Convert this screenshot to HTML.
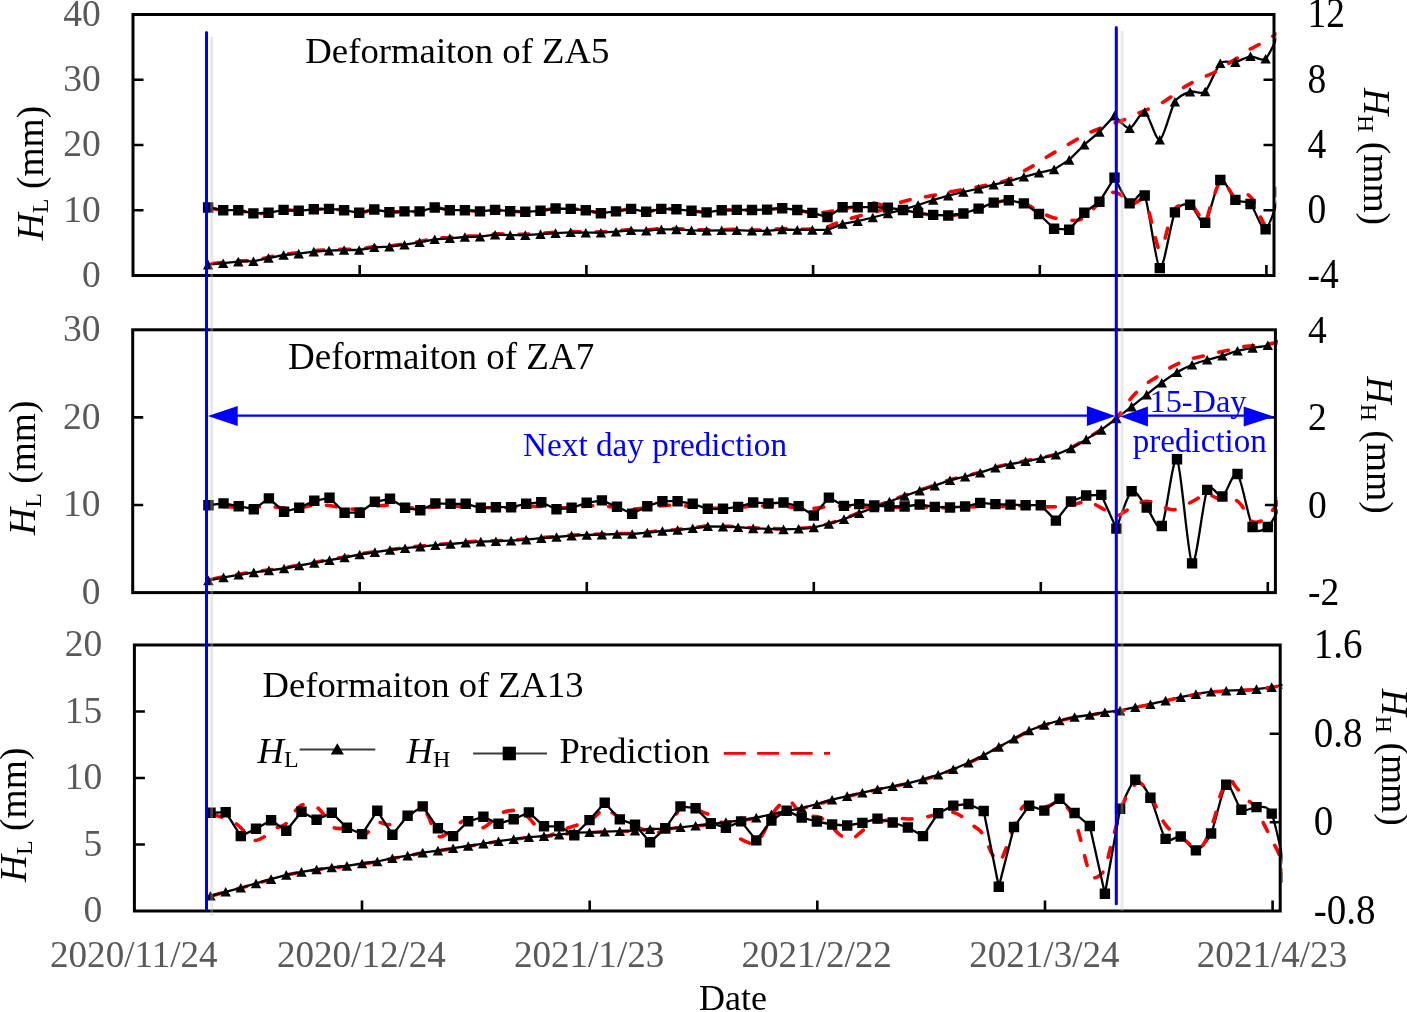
<!DOCTYPE html>
<html lang="en"><head><meta charset="utf-8"><title>Deformation prediction of ZA5, ZA7 and ZA13</title>
<style>html,body{margin:0;padding:0;background:#fff}body{width:1407px;height:1012px;overflow:hidden}svg{display:block}text{font-family:'Liberation Serif', 'Times New Roman', serif;font-size:37.5px;fill:#000}.g{fill:#595959}.t{font-size:36.6px}.b{fill:#0000ff;font-size:32.8px}.s{font-size:24px}.ax{stroke:#000;stroke-width:3;fill:none}.ln{stroke:#000;stroke-width:2.3;fill:none;stroke-linejoin:round}.rd{stroke:#ff0000;stroke-width:3.6;fill:none;stroke-dasharray:9.9 15.85;stroke-linecap:round}</style></head><body>
<svg width="1407" height="1012" viewBox="0 0 1407 1012">
<rect width="1407" height="1012" fill="#fff"/>
<defs>
<clipPath id="c1"><rect x="131" y="12.5" width="1145.3" height="265"/></clipPath>
<clipPath id="c2"><rect x="130.7" y="327.8" width="1147" height="266.8"/></clipPath>
<clipPath id="c3"><rect x="132.4" y="643" width="1150.1" height="270"/></clipPath>
</defs>
<g id="panel1">
<g clip-path="url(#c1)">
<path class="ln" d="M1114.5 115.6 C1116.5 117.3 1125.6 128.8 1129.6 128.3 C1133.7 127.8 1140.7 110.5 1144.7 112 C1148.8 113.5 1155.8 141.2 1159.8 139.8 C1163.9 138.4 1170.9 108.1 1174.9 101.7 C1179 95.3 1186 93.1 1190.1 91.7 C1194.1 90.3 1201.1 95.3 1205.2 91.5 C1209.2 87.7 1216.2 67.2 1220.3 63.3 C1224.3 59.4 1231.3 63 1235.4 62.1 C1239.4 61.2 1246.5 56.8 1250.5 56.3 C1254.5 55.8 1261.6 62.2 1265.6 58.7 C1269.6 55.2 1278.7 33.8 1280.7 30"/>
<path class="ln" d="M1114.5 177.6 C1116.5 181 1125.6 201 1129.6 203.4 C1133.7 205.8 1140.7 186.9 1144.7 195.5 C1148.8 204.1 1155.8 265.8 1159.8 268.1 C1163.9 270.4 1170.9 220.8 1174.9 212.4 C1179 204 1186 203.4 1190.1 204.8 C1194.1 206.2 1201.1 226 1205.2 222.7 C1209.2 219.4 1216.2 183 1220.3 180 C1224.3 177 1231.3 196.7 1235.4 199.9 C1239.4 203.1 1246.5 200.1 1250.5 204 C1254.5 207.9 1261.6 230.9 1265.6 229.3 C1269.6 227.7 1278.7 197 1280.7 192"/>
<path class="rd" stroke-dashoffset="21.8" d="M208.1 263.8 C210.6 263.6 218.2 262.9 223.2 262.4 C228.2 261.9 233.3 261.1 238.3 260.8 C243.3 260.5 248.4 261 253.4 260.4 C258.5 259.8 263.5 258.2 268.5 257.2 C273.6 256.2 278.6 254.9 283.6 254.2 C288.7 253.5 293.7 253.4 298.7 252.8 C303.8 252.2 308.8 251.3 313.8 250.8 C318.9 250.3 323.9 250.1 329 249.8 C334 249.5 339 249.3 344.1 249.2 C349.1 249.1 354.1 249.6 359.2 249.2 C364.2 248.8 369.2 247.1 374.3 246.5 C379.3 245.9 384.3 246.3 389.4 245.9 C394.4 245.5 399.5 244.6 404.5 243.9 C409.5 243.2 414.6 242.4 419.6 241.5 C424.6 240.6 429.7 239.2 434.7 238.5 C439.7 237.8 444.8 237.9 449.8 237.5 C454.8 237.1 459.9 236.5 464.9 236.2 C470 235.9 475 236.3 480 235.9 C485.1 235.5 490.1 234.2 495.1 233.9 C500.2 233.6 505.2 234.2 510.2 234.3 C515.3 234.4 520.3 234.5 525.3 234.3 C530.4 234.1 535.4 233.6 540.5 233.3 C545.5 233 550.5 232.6 555.6 232.3 C560.6 232 565.6 231.6 570.7 231.5 C575.7 231.4 580.7 231.8 585.8 231.9 C590.8 232 595.8 232.1 600.9 231.9 C605.9 231.7 611 231.3 616 230.9 C621 230.5 626.1 229.7 631.1 229.5 C636.1 229.3 641.2 230 646.2 229.9 C651.2 229.7 656.3 228.8 661.3 228.6 C666.3 228.4 671.4 228.4 676.4 228.6 C681.5 228.8 686.5 229.3 691.5 229.5 C696.6 229.7 701.6 229.9 706.6 229.9 C711.7 229.9 716.7 229.6 721.7 229.5 C726.8 229.4 731.8 229.3 736.8 229.4 C741.9 229.5 746.9 229.9 752 230 C757 230.1 762 230.2 767.1 230 C772.1 229.8 777.1 228.8 782.2 228.7 C787.2 228.5 792.2 229 797.3 229.1 C802.3 229.2 807.7 229.4 812.4 229.1 C817.1 228.8 821.8 228.4 825.5 227.5 C829.2 226.6 830.4 225.4 834.5 223.9 C838.6 222.4 843.4 220.6 850 218.6 C856.6 216.6 868.9 213.5 874.3 212 C879.7 210.5 878.3 211 882.3 209.5 C886.3 208 893.4 204.9 898.2 203.2 C903 201.5 907 200.4 911.1 199.4 C915.2 198.4 918.9 197.9 923 197.2 C927.1 196.5 931.8 195.8 936 195 C940.2 194.2 943.9 193 948 192.2 C952.1 191.3 955.6 190.9 960.9 189.9 C966.2 188.9 972.4 187.9 979.8 186.4 C987.1 184.9 997.8 183.5 1005 181 C1012.2 178.5 1017.9 174.2 1022.9 171.5 C1027.9 168.8 1031.2 167 1034.9 164.8 C1038.6 162.6 1041.2 160.5 1044.8 158.2 C1048.4 155.9 1053 153.3 1056.7 151.2 C1060.4 149 1062.9 147.5 1066.7 145.3 C1070.5 143.1 1075.8 140 1079.6 137.9 C1083.4 135.8 1085.8 134.3 1089.6 132.6 C1093.4 130.9 1098.5 129 1102.5 127.5 C1106.5 126 1109.6 124.8 1113.5 123.4 C1117.4 122 1121.9 120.7 1126 119 C1130.1 117.3 1133.9 115.2 1137.9 113.4 C1142 111.6 1146.3 110 1150.3 108.2 C1154.3 106.5 1158.1 104.9 1161.8 102.9 C1165.5 100.9 1168.8 98.5 1172.2 96.1 C1175.6 93.7 1178.6 90.9 1182.1 88.6 C1185.6 86.2 1189.3 84 1193.1 82 C1196.9 80 1201 78.4 1205 76.6 C1209 74.8 1213.2 73 1216.9 71 C1220.6 69 1223.4 66.6 1226.9 64.4 C1230.4 62.2 1234.3 60 1237.8 57.7 C1241.3 55.4 1244.1 52.6 1247.8 50.4 C1251.5 48.1 1255.9 46.4 1259.7 44.2 C1263.5 42 1267.7 39.3 1270.7 37.4 C1273.8 35.5 1276.8 33.7 1278 33"/>
<path class="rd" stroke-dashoffset="23.9" d="M208.1 207.5 C210.6 207.9 218.2 209.8 223.2 210.2 C228.2 210.6 233.3 209.7 238.3 210.2 C243.3 210.7 248.4 213 253.4 213.4 C258.5 213.8 263.5 213.4 268.5 212.8 C273.6 212.2 278.6 210.2 283.6 209.9 C288.7 209.6 293.7 210.9 298.7 210.8 C303.8 210.7 308.8 209.6 313.8 209.3 C318.9 209 323.9 208.8 329 208.9 C334 209.1 339 209.5 344.1 210.2 C349.1 210.8 354.1 212.9 359.2 212.8 C364.2 212.7 369.2 209.6 374.3 209.5 C379.3 209.4 384.3 211.9 389.4 212.2 C394.4 212.5 399.5 211.5 404.5 211.4 C409.5 211.3 414.6 212.1 419.6 211.4 C424.6 210.8 429.7 207.7 434.7 207.5 C439.7 207.3 444.8 209.8 449.8 210.2 C454.8 210.6 459.9 210 464.9 210.2 C470 210.4 475 211.4 480 211.4 C485.1 211.4 490.1 209.9 495.1 209.9 C500.2 209.9 505.2 210.9 510.2 211.2 C515.3 211.5 520.3 211.9 525.3 211.8 C530.4 211.7 535.4 211.4 540.5 210.8 C545.5 210.2 550.5 208.8 555.6 208.5 C560.6 208.2 565.6 208.6 570.7 208.9 C575.7 209.2 580.7 209.5 585.8 210.2 C590.8 210.9 595.8 213 600.9 213.2 C605.9 213.4 611 212.1 616 211.4 C621 210.7 626.1 208.8 631.1 208.9 C636.1 209 641.2 211.8 646.2 211.8 C651.2 211.8 656.3 209.3 661.3 208.9 C666.3 208.5 671.4 209 676.4 209.3 C681.5 209.6 686.5 210.3 691.5 210.8 C696.6 211.3 701.6 212.5 706.6 212.4 C711.7 212.3 716.7 210.6 721.7 210.2 C726.8 209.8 731.8 209.9 736.8 209.9 C741.9 209.9 746.9 210.1 752 210 C757 209.9 762 209.9 767.1 209.6 C772.1 209.3 777.1 208.1 782.2 208.2 C787.2 208.3 792.2 209.2 797.3 210 C802.3 210.8 807.3 212.6 812.4 212.9 C817.4 213.2 822.5 212.7 827.5 212 C832.5 211.3 837.6 210 842.6 209 C847.6 208 852.7 207 857.7 206 C862.7 205 867.8 202.8 872.8 203 C877.8 203.2 882.9 205.8 887.9 207 C893 208.2 898 209 903 210 C908.1 211 913.1 212.1 918.1 213 C923.2 213.9 928.2 214.8 933.2 215.3 C938.3 215.8 943.3 216.1 948.3 215.8 C953.4 215.5 958.4 214.7 963.4 213.5 C968.5 212.3 973.5 210.3 978.6 208.6 C983.6 206.8 988.6 204.3 993.7 203 C998.7 201.7 1003.6 200.4 1008.8 200.5 C1014 200.6 1019.9 201.6 1024.9 203.4 C1029.9 205.2 1034.2 209.1 1038.8 211.4 C1043.4 213.7 1047.5 215.9 1052.8 217.4 C1058.1 218.9 1066.1 220 1070.7 220.3 C1075.3 220.6 1076.9 221.2 1080.6 219.4 C1084.2 217.6 1089.3 212.4 1092.6 209.4 C1095.9 206.4 1097.8 204.1 1100.5 201.4 C1103.2 198.8 1106.2 195 1108.5 193.5 C1110.8 192 1112.5 192.3 1114.5 192.5 C1116.5 192.7 1117.4 192.7 1120.4 194.5 C1123.4 196.3 1128.4 202.7 1132.4 203.4 C1136.4 204.1 1141.7 197.5 1144.3 198.5 C1146.9 199.5 1146.6 203.6 1148.3 209.4 C1150 215.2 1152.5 226.7 1154.3 233.3 C1156.1 239.9 1157.5 247.9 1159.2 249.2 C1160.9 250.5 1162.4 246.2 1164.2 241.2 C1166 236.2 1168.2 225 1170.2 219.4 C1172.2 213.8 1172.8 209.9 1176.1 207.4 C1179.4 204.9 1186.4 203.4 1190.1 204.4 C1193.8 205.4 1195.5 210.4 1198 213.4 C1200.5 216.4 1202.7 224.3 1205 222.3 C1207.3 220.3 1209.3 208.4 1212 201.4 C1214.7 194.4 1218.2 182.8 1220.9 180.5 C1223.6 178.2 1225.4 184.5 1227.9 187.5 C1230.4 190.5 1232.7 197.3 1235.8 198.5 C1238.9 199.7 1243.8 194 1246.8 194.5 C1249.8 195 1251.3 197.2 1253.8 201.4 C1256.3 205.6 1259.4 214.9 1261.7 219.4 C1264 223.9 1265 226.8 1267.7 228.3 C1270.4 229.8 1276.3 228.3 1278 228.3"/>
<path class="ln" d="M208.1 264.6 L223.2 263.2 L238.3 261.6 L253.4 261.2 L268.5 258 L283.6 255 L298.7 253.6 L313.8 251.6 L329 250.6 L344.1 250 L359.2 250 L374.3 247.3 L389.4 246.7 L404.5 244.7 L419.6 242.3 L434.7 239.3 L449.8 238.3 L464.9 237 L480 236.7 L495.1 234.7 L510.2 235.1 L525.3 235.1 L540.5 234.1 L555.6 233.1 L570.7 232.3 L585.8 232.7 L600.9 232.7 L616 231.7 L631.1 230.3 L646.2 230.7 L661.3 229.4 L676.4 229.4 L691.5 230.3 L706.6 230.7 L721.7 230.3 L736.8 230.2 L752 230.8 L767.1 230.8 L782.2 229.5 L797.3 229.9 L812.4 229.9 L827.5 229.9 L842.6 223.9 L857.7 221.1 L872.8 217.5 L887.9 213.5 L903 209.6 L918.1 205 L933.2 200 L948.3 195.6 L963.4 192 L978.6 188.7 L993.7 184.7 L1008.8 181.3 L1023.9 176.8 L1039 172.8 L1054.1 169.4 L1069.2 159.9 L1084.3 144.7 L1099.4 132 L1114.5 115.6"/>
<path class="ln" d="M208.1 207.5 L223.2 210.2 L238.3 210.2 L253.4 213.4 L268.5 212.8 L283.6 209.9 L298.7 210.8 L313.8 209.3 L329 208.9 L344.1 210.2 L359.2 212.8 L374.3 209.5 L389.4 212.2 L404.5 211.4 L419.6 211.4 L434.7 207.5 L449.8 210.2 L464.9 210.2 L480 211.4 L495.1 209.9 L510.2 211.2 L525.3 211.8 L540.5 210.8 L555.6 208.5 L570.7 208.9 L585.8 210.2 L600.9 213.2 L616 211.4 L631.1 208.9 L646.2 211.8 L661.3 208.9 L676.4 209.3 L691.5 210.8 L706.6 212.4 L721.7 210.2 L736.8 209.9 L752 210 L767.1 209.6 L782.2 208.2 L797.3 210 L812.4 212.9 L827.5 217.1 L842.6 207.2 L857.7 207.2 L872.8 207.2 L887.9 207.6 L903 210 L918.1 212.9 L933.2 214.9 L948.3 215.5 L963.4 213.5 L978.6 208.6 L993.7 202.6 L1008.8 200.2 L1023.9 203.4 L1039 214 L1054.1 228.7 L1069.2 229.7 L1084.3 212.8 L1099.4 201.8 L1114.5 177.6"/>
<path fill="#000" d="M208.1 259.8l5.2 9.6h-10.4zM223.2 258.4l5.2 9.6h-10.4zM238.3 256.8l5.2 9.6h-10.4zM253.4 256.4l5.2 9.6h-10.4zM268.5 253.2l5.2 9.6h-10.4zM283.6 250.2l5.2 9.6h-10.4zM298.7 248.8l5.2 9.6h-10.4zM313.8 246.8l5.2 9.6h-10.4zM329 245.8l5.2 9.6h-10.4zM344.1 245.2l5.2 9.6h-10.4zM359.2 245.2l5.2 9.6h-10.4zM374.3 242.5l5.2 9.6h-10.4zM389.4 241.9l5.2 9.6h-10.4zM404.5 239.9l5.2 9.6h-10.4zM419.6 237.5l5.2 9.6h-10.4zM434.7 234.5l5.2 9.6h-10.4zM449.8 233.5l5.2 9.6h-10.4zM464.9 232.2l5.2 9.6h-10.4zM480 231.9l5.2 9.6h-10.4zM495.1 229.9l5.2 9.6h-10.4zM510.2 230.3l5.2 9.6h-10.4zM525.3 230.3l5.2 9.6h-10.4zM540.5 229.3l5.2 9.6h-10.4zM555.6 228.3l5.2 9.6h-10.4zM570.7 227.5l5.2 9.6h-10.4zM585.8 227.9l5.2 9.6h-10.4zM600.9 227.9l5.2 9.6h-10.4zM616 226.9l5.2 9.6h-10.4zM631.1 225.5l5.2 9.6h-10.4zM646.2 225.9l5.2 9.6h-10.4zM661.3 224.6l5.2 9.6h-10.4zM676.4 224.6l5.2 9.6h-10.4zM691.5 225.5l5.2 9.6h-10.4zM706.6 225.9l5.2 9.6h-10.4zM721.7 225.5l5.2 9.6h-10.4zM736.8 225.4l5.2 9.6h-10.4zM752 226l5.2 9.6h-10.4zM767.1 226l5.2 9.6h-10.4zM782.2 224.7l5.2 9.6h-10.4zM797.3 225.1l5.2 9.6h-10.4zM812.4 225.1l5.2 9.6h-10.4zM827.5 225.1l5.2 9.6h-10.4zM842.6 219.1l5.2 9.6h-10.4zM857.7 216.3l5.2 9.6h-10.4zM872.8 212.7l5.2 9.6h-10.4zM887.9 208.7l5.2 9.6h-10.4zM903 204.8l5.2 9.6h-10.4zM918.1 200.2l5.2 9.6h-10.4zM933.2 195.2l5.2 9.6h-10.4zM948.3 190.8l5.2 9.6h-10.4zM963.4 187.2l5.2 9.6h-10.4zM978.6 183.9l5.2 9.6h-10.4zM993.7 179.9l5.2 9.6h-10.4zM1008.8 176.5l5.2 9.6h-10.4zM1023.9 172l5.2 9.6h-10.4zM1039 168l5.2 9.6h-10.4zM1054.1 164.6l5.2 9.6h-10.4zM1069.2 155.1l5.2 9.6h-10.4zM1084.3 139.9l5.2 9.6h-10.4zM1099.4 127.2l5.2 9.6h-10.4zM1114.5 110.8l5.2 9.6h-10.4zM1129.6 123.5l5.2 9.6h-10.4zM1144.7 107.2l5.2 9.6h-10.4zM1159.8 135l5.2 9.6h-10.4zM1174.9 96.9l5.2 9.6h-10.4zM1190.1 86.9l5.2 9.6h-10.4zM1205.2 86.7l5.2 9.6h-10.4zM1220.3 58.5l5.2 9.6h-10.4zM1235.4 57.3l5.2 9.6h-10.4zM1250.5 51.5l5.2 9.6h-10.4zM1265.6 53.9l5.2 9.6h-10.4zM1280.7 25.2l5.2 9.6h-10.4z"/>
<path fill="#000" d="M202.9 202.3h10.4v10.4h-10.4zM218 205h10.4v10.4h-10.4zM233.1 205h10.4v10.4h-10.4zM248.2 208.2h10.4v10.4h-10.4zM263.3 207.6h10.4v10.4h-10.4zM278.4 204.7h10.4v10.4h-10.4zM293.5 205.6h10.4v10.4h-10.4zM308.6 204.1h10.4v10.4h-10.4zM323.8 203.7h10.4v10.4h-10.4zM338.9 205h10.4v10.4h-10.4zM354 207.6h10.4v10.4h-10.4zM369.1 204.3h10.4v10.4h-10.4zM384.2 207h10.4v10.4h-10.4zM399.3 206.2h10.4v10.4h-10.4zM414.4 206.2h10.4v10.4h-10.4zM429.5 202.3h10.4v10.4h-10.4zM444.6 205h10.4v10.4h-10.4zM459.7 205h10.4v10.4h-10.4zM474.8 206.2h10.4v10.4h-10.4zM489.9 204.7h10.4v10.4h-10.4zM505 206h10.4v10.4h-10.4zM520.1 206.6h10.4v10.4h-10.4zM535.3 205.6h10.4v10.4h-10.4zM550.4 203.3h10.4v10.4h-10.4zM565.5 203.7h10.4v10.4h-10.4zM580.6 205h10.4v10.4h-10.4zM595.7 208h10.4v10.4h-10.4zM610.8 206.2h10.4v10.4h-10.4zM625.9 203.7h10.4v10.4h-10.4zM641 206.6h10.4v10.4h-10.4zM656.1 203.7h10.4v10.4h-10.4zM671.2 204.1h10.4v10.4h-10.4zM686.3 205.6h10.4v10.4h-10.4zM701.4 207.2h10.4v10.4h-10.4zM716.5 205h10.4v10.4h-10.4zM731.6 204.7h10.4v10.4h-10.4zM746.8 204.8h10.4v10.4h-10.4zM761.9 204.4h10.4v10.4h-10.4zM777 203h10.4v10.4h-10.4zM792.1 204.8h10.4v10.4h-10.4zM807.2 207.7h10.4v10.4h-10.4zM822.3 211.9h10.4v10.4h-10.4zM837.4 202h10.4v10.4h-10.4zM852.5 202h10.4v10.4h-10.4zM867.6 202h10.4v10.4h-10.4zM882.7 202.4h10.4v10.4h-10.4zM897.8 204.8h10.4v10.4h-10.4zM912.9 207.7h10.4v10.4h-10.4zM928 209.7h10.4v10.4h-10.4zM943.1 210.3h10.4v10.4h-10.4zM958.2 208.3h10.4v10.4h-10.4zM973.4 203.4h10.4v10.4h-10.4zM988.5 197.4h10.4v10.4h-10.4zM1003.6 195h10.4v10.4h-10.4zM1018.7 198.2h10.4v10.4h-10.4zM1033.8 208.8h10.4v10.4h-10.4zM1048.9 223.5h10.4v10.4h-10.4zM1064 224.5h10.4v10.4h-10.4zM1079.1 207.6h10.4v10.4h-10.4zM1094.2 196.6h10.4v10.4h-10.4zM1109.3 172.4h10.4v10.4h-10.4zM1124.4 198.2h10.4v10.4h-10.4zM1139.5 190.3h10.4v10.4h-10.4zM1154.6 262.9h10.4v10.4h-10.4zM1169.7 207.2h10.4v10.4h-10.4zM1184.9 199.6h10.4v10.4h-10.4zM1200 217.5h10.4v10.4h-10.4zM1215.1 174.8h10.4v10.4h-10.4zM1230.2 194.7h10.4v10.4h-10.4zM1245.3 198.8h10.4v10.4h-10.4zM1260.4 224.1h10.4v10.4h-10.4zM1275.5 186.8h10.4v10.4h-10.4z"/>
</g>
<rect class="ax" x="133" y="14.5" width="1141" height="261"/>
<path d="M133 79.8h10.5M133 145h10.5M133 210.2h10.5M1274 79.8h-10.5M1274 145h-10.5M1274 210.2h-10.5M359.7 275.5v-10.5M586.4 275.5v-10.5M813.1 275.5v-10.5M1039.8 275.5v-10.5M1266.4 275.5v-10.5" stroke="#000" stroke-width="2.6" fill="none"/>
<text class="g" x="100.8" y="25.9" text-anchor="end">40</text>
<text class="g" x="100.8" y="91.2" text-anchor="end">30</text>
<text class="g" x="100.8" y="156.4" text-anchor="end">20</text>
<text class="g" x="100.8" y="221.7" text-anchor="end">10</text>
<text class="g" x="100.8" y="286.9" text-anchor="end">0</text>
<text transform="translate(1307.5 27.3) scale(1.0 1.1)">12</text>
<text transform="translate(1307.5 92.5) scale(1.0 1.1)">8</text>
<text transform="translate(1307.5 157.8) scale(1.0 1.1)">4</text>
<text transform="translate(1307.5 223.1) scale(1.0 1.1)">0</text>
<text transform="translate(1307.5 288.3) scale(1.0 1.1)">-4</text>
</g>
<g id="panel2">
<g clip-path="url(#c2)">
<path class="ln" d="M1116.4 418.5 C1118.5 416.9 1127.5 409.8 1131.6 406.6 C1135.6 403.4 1142.7 397.8 1146.7 394.6 C1150.7 391.4 1157.8 385.7 1161.8 382.7 C1165.9 379.7 1172.9 374.7 1177 372.3 C1181 369.9 1188.1 366.5 1192.1 364.8 C1196.1 363.1 1203.2 361 1207.2 359.8 C1211.3 358.6 1218.3 357 1222.4 355.8 C1226.4 354.6 1233.5 351.9 1237.5 350.8 C1241.5 349.7 1248.6 348.6 1252.6 347.9 C1256.7 347.2 1263.7 346.5 1267.8 345.3 C1271.8 344.1 1280.9 339.8 1282.9 338.9"/>
<path class="ln" d="M1116.4 528.6 C1118.5 523.6 1127.5 494 1131.6 491.2 C1135.6 488.4 1142.7 502.9 1146.7 507.5 C1150.7 512.1 1157.8 532.4 1161.8 526 C1165.9 519.6 1172.9 454.3 1177 459.3 C1181 464.3 1188.1 559.3 1192.1 563.4 C1196.1 567.5 1203.2 498.8 1207.2 489.9 C1211.3 481 1218.3 498.6 1222.4 496.5 C1226.4 494.4 1233.5 469.9 1237.5 474 C1241.5 478.1 1248.6 519.9 1252.6 527 C1256.7 534.1 1263.7 530.3 1267.8 527 C1271.8 523.7 1280.9 505.2 1282.9 501.9"/>
<path class="rd" stroke-dashoffset="22.6" d="M208.4 579.9 C210.9 579.4 218.5 577.8 223.5 576.9 C228.6 576 233.6 575.1 238.7 574.3 C243.7 573.5 248.8 572.6 253.8 571.9 C258.8 571.2 263.9 570.5 268.9 569.9 C274 569.2 279 568.8 284.1 568 C289.1 567.2 294.2 565.9 299.2 565 C304.2 564.1 309.3 563.3 314.3 562.4 C319.4 561.5 324.4 560.5 329.5 559.6 C334.5 558.7 339.6 557.9 344.6 557 C349.7 556.1 354.7 554.9 359.7 554 C364.8 553.1 369.8 552.4 374.9 551.6 C379.9 550.9 385 550.1 390 549.5 C395.1 548.9 400.1 548.3 405.1 547.7 C410.2 547.1 415.2 546.6 420.3 546.1 C425.3 545.6 430.4 545.1 435.4 544.7 C440.5 544.3 445.5 543.9 450.5 543.5 C455.6 543.1 460.6 542.5 465.7 542.1 C470.7 541.7 475.8 541.3 480.8 541.1 C485.9 540.9 490.9 540.9 495.9 540.7 C501 540.5 506 540.4 511.1 540.1 C516.1 539.8 521.2 539.5 526.2 539.1 C531.3 538.7 536.3 538.1 541.3 537.7 C546.4 537.3 551.4 536.9 556.5 536.5 C561.5 536.1 566.6 535.4 571.6 535.1 C576.7 534.8 581.7 534.7 586.8 534.5 C591.8 534.3 596.8 534.3 601.9 534.1 C606.9 533.9 612 533.6 617 533.5 C622.1 533.4 627.1 533.7 632.2 533.5 C637.2 533.3 642.2 532.6 647.3 532.1 C652.3 531.6 657.4 530.9 662.4 530.5 C667.5 530.1 672.5 530 677.6 529.5 C682.6 529 687.6 528.4 692.7 527.8 C697.7 527.2 702.8 526.1 707.8 525.8 C712.9 525.5 717.9 526.1 723 526.2 C728 526.4 733 526.4 738.1 526.7 C743.1 527 748.2 527.6 753.2 527.9 C758.3 528.2 763.3 528.1 768.4 528.3 C773.4 528.5 778.4 528.9 783.5 528.9 C788.5 528.9 793.6 528.6 798.6 528.3 C803.7 528 808.7 527.7 813.8 526.9 C818.8 526.1 823.8 524.9 828.9 523.5 C833.9 522.1 839 520.4 844 518.6 C849.1 516.8 854.1 514.5 859.2 512.6 C864.2 510.7 869.3 508.9 874.3 507 C879.3 505.1 884.4 502.9 889.4 501 C894.5 499.1 899.5 497.3 904.6 495.5 C909.6 493.7 914.7 491.8 919.7 490.1 C924.7 488.4 929.8 486.8 934.8 485.1 C939.9 483.4 944.9 481.2 950 479.7 C955 478.2 960.1 477.4 965.1 476.2 C970.1 474.9 975.2 473.7 980.2 472.2 C985.3 470.7 990.3 468.6 995.4 467.2 C1000.4 465.8 1005.5 464.8 1010.5 463.7 C1015.5 462.6 1020.6 461.8 1025.6 460.8 C1030.7 459.8 1035.7 458.9 1040.8 457.8 C1045.8 456.7 1050.9 455.9 1055.9 454.2 C1060.9 452.5 1066 450.4 1071 447.9 C1076.1 445.3 1081.1 442 1086.2 438.9 C1091.2 435.8 1096.3 432.9 1101.3 429.4 C1106.4 425.9 1111.9 422.6 1116.4 418 C1121 413.4 1125.1 405.8 1128.4 401.6 C1131.7 397.4 1133.3 395.6 1136.3 392.6 C1139.3 389.6 1142.8 386.4 1146.3 383.7 C1149.8 381 1153.5 379.2 1157.2 376.7 C1160.9 374.2 1164.4 371.1 1168.2 368.8 C1172 366.5 1176.3 364.5 1180.1 362.8 C1183.9 361.1 1187.1 360 1191.1 358.8 C1195.1 357.6 1199.5 356.9 1204 355.8 C1208.5 354.7 1213.6 353.4 1217.9 352.4 C1222.2 351.4 1225.9 350.8 1229.9 349.9 C1233.9 349 1237.8 347.6 1241.8 346.9 C1245.8 346.2 1249.5 346 1253.8 345.5 C1258.1 345 1263.5 344.4 1267.7 343.9 C1271.9 343.4 1277.1 342.9 1279 342.7"/>
<path class="rd" stroke-dashoffset="10.2" d="M208.4 508.8 C210.9 508.4 218.5 506.8 223.5 506.6 C228.6 506.3 233.6 507.2 238.7 507.3 C243.7 507.4 248.8 507.2 253.8 507.1 C258.8 507 263.9 506.4 268.9 506.5 C274 506.6 279 507.7 284.1 507.9 C289.1 508.1 294.2 508.1 299.2 507.7 C304.2 507.3 309.3 505.7 314.3 505.3 C319.4 505 324.4 505 329.5 505.5 C334.5 506.1 339.6 508 344.6 508.6 C349.7 509.1 354.7 509.4 359.7 509 C364.8 508.6 369.8 506.8 374.9 506.2 C379.9 505.6 385 505.2 390 505.3 C395.1 505.5 400.1 506.8 405.1 507.3 C410.2 507.8 415.2 508.2 420.3 508.1 C425.3 508 430.4 507.2 435.4 506.9 C440.5 506.6 445.5 506.2 450.5 506.2 C455.6 506.2 460.6 506.5 465.7 506.7 C470.7 506.9 475.8 507.3 480.8 507.5 C485.9 507.7 490.9 507.9 495.9 507.8 C501 507.8 506 507.6 511.1 507.4 C516.1 507.1 521.2 506.6 526.2 506.4 C531.3 506.3 536.3 506.3 541.3 506.5 C546.4 506.7 551.4 507.5 556.5 507.7 C561.5 507.9 566.6 507.9 571.6 507.6 C576.7 507.4 581.7 506.4 586.8 506.1 C591.8 505.8 596.8 505.4 601.9 505.7 C606.9 506 612 507.1 617 507.6 C622.1 508.2 627.1 509.1 632.2 509.1 C637.2 509.1 642.2 508.2 647.3 507.6 C652.3 507 657.4 506 662.4 505.6 C667.5 505.3 672.5 505.2 677.6 505.4 C682.6 505.5 687.6 506.1 692.7 506.5 C697.7 506.9 702.8 507.6 707.8 507.9 C712.9 508.2 717.9 508.4 723 508.3 C728 508.2 733 507.7 738.1 507.3 C743.1 507 748.2 506.5 753.2 506.3 C758.3 506 763.3 505.9 768.4 505.9 C773.4 505.9 778.4 505.8 783.5 506.2 C788.5 506.5 793.6 507.5 798.6 507.9 C803.7 508.3 808.7 508.7 813.8 508.4 C818.8 508.2 823.8 506.8 828.9 506.4 C833.9 506 839 506 844 506 C849.1 506.1 854.1 506.6 859.2 506.7 C864.2 506.9 869.3 506.9 874.3 507 C879.3 507.1 884.4 507.3 889.4 507.3 C894.5 507.4 899.5 507.3 904.6 507.2 C909.6 507.2 914.7 507 919.7 507 C924.7 507.1 929.8 507.3 934.8 507.4 C939.9 507.5 944.9 507.8 950 507.7 C955 507.7 960.1 507.4 965.1 507.2 C970.1 506.9 975.2 506.5 980.2 506.4 C985.3 506.2 990.3 506.3 995.4 506.3 C1000.4 506.3 1006.9 506.7 1010.5 506.6 C1014.1 506.5 1012.2 505.7 1016.9 505.7 C1021.6 505.7 1032.5 506.5 1038.8 506.7 C1045.1 506.9 1049.5 506.9 1054.8 506.7 C1060.1 506.5 1065.7 506.1 1070.7 505.3 C1075.7 504.5 1080.9 502 1084.6 501.7 C1088.2 501.4 1089.3 502 1092.6 503.3 C1095.9 504.6 1100.5 507.6 1104.5 509.7 C1108.5 511.8 1112.8 515.5 1116.4 515.6 C1120.1 515.8 1122.4 512.8 1126.4 510.6 C1130.4 508.5 1136.3 504.2 1140.3 502.7 C1144.3 501.2 1146.6 501 1150.3 501.7 C1154 502.4 1158.2 505.4 1162.2 506.7 C1166.2 508 1169.9 510.2 1174.2 509.7 C1178.5 509.2 1184 505.7 1188.1 503.7 C1192.2 501.7 1196 499.4 1199 497.7 C1202 496 1203.2 493.3 1206 493.3 C1208.8 493.3 1212.9 496.6 1215.9 497.7 C1218.9 498.8 1220.9 499.4 1223.9 499.7 C1226.9 500 1230.9 498.3 1233.9 499.3 C1236.9 500.3 1239.2 502.3 1241.8 505.7 C1244.4 509.1 1247.1 516.9 1249.8 519.6 C1252.5 522.3 1254.7 522.5 1257.7 522 C1260.7 521.5 1264.2 520.1 1267.7 516.6 C1271.2 513.1 1277.1 503.6 1279 501"/>
<path class="ln" d="M208.4 580.4 L223.5 577.4 L238.7 574.8 L253.8 572.4 L268.9 570.4 L284.1 568.5 L299.2 565.5 L314.3 562.9 L329.5 560.1 L344.6 557.5 L359.7 554.5 L374.9 552.1 L390 550 L405.1 548.2 L420.3 546.6 L435.4 545.2 L450.5 544 L465.7 542.6 L480.8 541.6 L495.9 541.2 L511.1 540.6 L526.2 539.6 L541.3 538.2 L556.5 537 L571.6 535.6 L586.8 535 L601.9 534.6 L617 534 L632.2 534 L647.3 532.6 L662.4 531 L677.6 530 L692.7 528.3 L707.8 526.3 L723 526.7 L738.1 527.2 L753.2 528.4 L768.4 528.8 L783.5 529.4 L798.6 528.8 L813.8 527.4 L828.9 524 L844 519.1 L859.2 513.1 L874.3 507.5 L889.4 501.5 L904.6 496 L919.7 490.6 L934.8 485.6 L950 480.2 L965.1 476.7 L980.2 472.7 L995.4 467.7 L1010.5 464.2 L1025.6 461.3 L1040.8 458.3 L1055.9 454.7 L1071 448.4 L1086.2 439.4 L1101.3 429.9 L1116.4 418.5"/>
<path class="ln" d="M208.4 505.2 L223.5 503.4 L238.7 506.2 L253.8 509.2 L268.9 498.4 L284.1 511.7 L299.2 507.8 L314.3 500.8 L329.5 497.8 L344.6 512.7 L359.7 512.7 L374.9 501.8 L390 498.8 L405.1 507.8 L420.3 510.3 L435.4 503.4 L450.5 503.8 L465.7 503.8 L480.8 507.8 L495.9 507.2 L511.1 507.2 L526.2 503.8 L541.3 502.2 L556.5 509.2 L571.6 507.8 L586.8 502.8 L601.9 500.4 L617 506.8 L632.2 513.7 L647.3 506.2 L662.4 501.2 L677.6 501.2 L692.7 503.8 L707.8 508.8 L723 508.8 L738.1 506.9 L753.2 502.5 L768.4 503.5 L783.5 502.5 L798.6 506.1 L813.8 515.5 L828.9 497.6 L844 505.9 L859.2 504.1 L874.3 505.5 L889.4 506.5 L904.6 506.5 L919.7 504.5 L934.8 506.9 L950 507.5 L965.1 506.5 L980.2 502.9 L995.4 504.1 L1010.5 504.6 L1025.6 505.2 L1040.8 505.2 L1055.9 520.6 L1071 501.5 L1086.2 495.5 L1101.3 494.9 L1116.4 528.6"/>
<path fill="#000" d="M208.4 575.6l5.2 9.6h-10.4zM223.5 572.6l5.2 9.6h-10.4zM238.7 570l5.2 9.6h-10.4zM253.8 567.6l5.2 9.6h-10.4zM268.9 565.6l5.2 9.6h-10.4zM284.1 563.7l5.2 9.6h-10.4zM299.2 560.7l5.2 9.6h-10.4zM314.3 558.1l5.2 9.6h-10.4zM329.5 555.3l5.2 9.6h-10.4zM344.6 552.7l5.2 9.6h-10.4zM359.7 549.7l5.2 9.6h-10.4zM374.9 547.3l5.2 9.6h-10.4zM390 545.2l5.2 9.6h-10.4zM405.1 543.4l5.2 9.6h-10.4zM420.3 541.8l5.2 9.6h-10.4zM435.4 540.4l5.2 9.6h-10.4zM450.5 539.2l5.2 9.6h-10.4zM465.7 537.8l5.2 9.6h-10.4zM480.8 536.8l5.2 9.6h-10.4zM495.9 536.4l5.2 9.6h-10.4zM511.1 535.8l5.2 9.6h-10.4zM526.2 534.8l5.2 9.6h-10.4zM541.3 533.4l5.2 9.6h-10.4zM556.5 532.2l5.2 9.6h-10.4zM571.6 530.8l5.2 9.6h-10.4zM586.8 530.2l5.2 9.6h-10.4zM601.9 529.8l5.2 9.6h-10.4zM617 529.2l5.2 9.6h-10.4zM632.2 529.2l5.2 9.6h-10.4zM647.3 527.8l5.2 9.6h-10.4zM662.4 526.2l5.2 9.6h-10.4zM677.6 525.2l5.2 9.6h-10.4zM692.7 523.5l5.2 9.6h-10.4zM707.8 521.5l5.2 9.6h-10.4zM723 521.9l5.2 9.6h-10.4zM738.1 522.4l5.2 9.6h-10.4zM753.2 523.6l5.2 9.6h-10.4zM768.4 524l5.2 9.6h-10.4zM783.5 524.6l5.2 9.6h-10.4zM798.6 524l5.2 9.6h-10.4zM813.8 522.6l5.2 9.6h-10.4zM828.9 519.2l5.2 9.6h-10.4zM844 514.3l5.2 9.6h-10.4zM859.2 508.3l5.2 9.6h-10.4zM874.3 502.7l5.2 9.6h-10.4zM889.4 496.7l5.2 9.6h-10.4zM904.6 491.2l5.2 9.6h-10.4zM919.7 485.8l5.2 9.6h-10.4zM934.8 480.8l5.2 9.6h-10.4zM950 475.4l5.2 9.6h-10.4zM965.1 471.9l5.2 9.6h-10.4zM980.2 467.9l5.2 9.6h-10.4zM995.4 462.9l5.2 9.6h-10.4zM1010.5 459.4l5.2 9.6h-10.4zM1025.6 456.5l5.2 9.6h-10.4zM1040.8 453.5l5.2 9.6h-10.4zM1055.9 449.9l5.2 9.6h-10.4zM1071 443.6l5.2 9.6h-10.4zM1086.2 434.6l5.2 9.6h-10.4zM1101.3 425.1l5.2 9.6h-10.4zM1116.4 413.7l5.2 9.6h-10.4zM1131.6 401.8l5.2 9.6h-10.4zM1146.7 389.8l5.2 9.6h-10.4zM1161.8 377.9l5.2 9.6h-10.4zM1177 367.5l5.2 9.6h-10.4zM1192.1 360l5.2 9.6h-10.4zM1207.2 355l5.2 9.6h-10.4zM1222.4 351l5.2 9.6h-10.4zM1237.5 346l5.2 9.6h-10.4zM1252.6 343.1l5.2 9.6h-10.4zM1267.8 340.5l5.2 9.6h-10.4zM1282.9 334.1l5.2 9.6h-10.4z"/>
<path fill="#000" d="M203.2 500h10.4v10.4h-10.4zM218.3 498.2h10.4v10.4h-10.4zM233.5 501h10.4v10.4h-10.4zM248.6 504h10.4v10.4h-10.4zM263.7 493.2h10.4v10.4h-10.4zM278.9 506.5h10.4v10.4h-10.4zM294 502.6h10.4v10.4h-10.4zM309.1 495.6h10.4v10.4h-10.4zM324.3 492.6h10.4v10.4h-10.4zM339.4 507.5h10.4v10.4h-10.4zM354.5 507.5h10.4v10.4h-10.4zM369.7 496.6h10.4v10.4h-10.4zM384.8 493.6h10.4v10.4h-10.4zM399.9 502.6h10.4v10.4h-10.4zM415.1 505.1h10.4v10.4h-10.4zM430.2 498.2h10.4v10.4h-10.4zM445.3 498.6h10.4v10.4h-10.4zM460.5 498.6h10.4v10.4h-10.4zM475.6 502.6h10.4v10.4h-10.4zM490.7 502h10.4v10.4h-10.4zM505.9 502h10.4v10.4h-10.4zM521 498.6h10.4v10.4h-10.4zM536.1 497h10.4v10.4h-10.4zM551.3 504h10.4v10.4h-10.4zM566.4 502.6h10.4v10.4h-10.4zM581.5 497.6h10.4v10.4h-10.4zM596.7 495.2h10.4v10.4h-10.4zM611.8 501.6h10.4v10.4h-10.4zM627 508.5h10.4v10.4h-10.4zM642.1 501h10.4v10.4h-10.4zM657.2 496h10.4v10.4h-10.4zM672.4 496h10.4v10.4h-10.4zM687.5 498.6h10.4v10.4h-10.4zM702.6 503.6h10.4v10.4h-10.4zM717.8 503.6h10.4v10.4h-10.4zM732.9 501.7h10.4v10.4h-10.4zM748 497.3h10.4v10.4h-10.4zM763.2 498.3h10.4v10.4h-10.4zM778.3 497.3h10.4v10.4h-10.4zM793.4 500.9h10.4v10.4h-10.4zM808.6 510.3h10.4v10.4h-10.4zM823.7 492.4h10.4v10.4h-10.4zM838.8 500.7h10.4v10.4h-10.4zM854 498.9h10.4v10.4h-10.4zM869.1 500.3h10.4v10.4h-10.4zM884.2 501.3h10.4v10.4h-10.4zM899.4 501.3h10.4v10.4h-10.4zM914.5 499.3h10.4v10.4h-10.4zM929.6 501.7h10.4v10.4h-10.4zM944.8 502.3h10.4v10.4h-10.4zM959.9 501.3h10.4v10.4h-10.4zM975 497.7h10.4v10.4h-10.4zM990.2 498.9h10.4v10.4h-10.4zM1005.3 499.4h10.4v10.4h-10.4zM1020.4 500h10.4v10.4h-10.4zM1035.6 500h10.4v10.4h-10.4zM1050.7 515.4h10.4v10.4h-10.4zM1065.8 496.3h10.4v10.4h-10.4zM1081 490.3h10.4v10.4h-10.4zM1096.1 489.7h10.4v10.4h-10.4zM1111.2 523.4h10.4v10.4h-10.4zM1126.4 486h10.4v10.4h-10.4zM1141.5 502.3h10.4v10.4h-10.4zM1156.6 520.8h10.4v10.4h-10.4zM1171.8 454.1h10.4v10.4h-10.4zM1186.9 558.2h10.4v10.4h-10.4zM1202 484.7h10.4v10.4h-10.4zM1217.2 491.3h10.4v10.4h-10.4zM1232.3 468.8h10.4v10.4h-10.4zM1247.4 521.8h10.4v10.4h-10.4zM1262.6 521.8h10.4v10.4h-10.4zM1277.7 496.7h10.4v10.4h-10.4z"/>
</g>
<rect class="ax" x="132.7" y="329.8" width="1142.7" height="262.8"/>
<path d="M132.7 417.4h10.5M132.7 505h10.5M1275.4 417.4h-10.5M1275.4 505h-10.5M359.7 592.6v-10.5M586.8 592.6v-10.5M813.8 592.6v-10.5M1040.8 592.6v-10.5M1267.8 592.6v-10.5" stroke="#000" stroke-width="2.6" fill="none"/>
<text class="g" x="100.6" y="341.2" text-anchor="end">30</text>
<text class="g" x="100.6" y="428.8" text-anchor="end">20</text>
<text class="g" x="100.6" y="516.4" text-anchor="end">10</text>
<text class="g" x="100.6" y="604" text-anchor="end">0</text>
<text transform="translate(1308 342.6) scale(1.0 1.055)">4</text>
<text transform="translate(1308 430.2) scale(1.0 1.055)">2</text>
<text transform="translate(1308 517.8) scale(1.0 1.055)">0</text>
<text transform="translate(1308 605.4) scale(1.0 1.055)">-2</text>
</g>
<g id="panel3">
<g clip-path="url(#c3)">
<path class="ln" d="M1120.1 710.6 C1122.1 710.1 1131.2 708.1 1135.3 707.2 C1139.3 706.3 1146.4 705.1 1150.4 704.2 C1154.5 703.3 1161.5 701.5 1165.6 700.6 C1169.6 699.7 1176.7 698 1180.7 697.1 C1184.8 696.2 1191.9 694.8 1195.9 694.1 C1199.9 693.4 1207 692.2 1211.1 691.7 C1215.1 691.2 1222.2 690.9 1226.2 690.7 C1230.3 690.5 1237.3 690.3 1241.4 690.1 C1245.4 689.9 1252.5 689.5 1256.5 689.1 C1260.6 688.7 1267.7 687.8 1271.7 687.1 C1275.7 686.4 1284.8 684.5 1286.9 684.1"/>
<path class="ln" d="M1120.1 808.7 C1122.1 804.8 1131.2 781.3 1135.3 779.8 C1139.3 778.3 1146.4 789.8 1150.4 797.7 C1154.5 805.6 1161.5 833.7 1165.6 838.9 C1169.6 844.1 1176.7 835 1180.7 836.5 C1184.8 838 1191.9 850.8 1195.9 850.4 C1199.9 850 1207 842.2 1211.1 833.5 C1215.1 824.8 1222.2 788 1226.2 784.8 C1230.3 781.6 1237.3 806.7 1241.4 809.7 C1245.4 812.7 1252.5 806.6 1256.5 807.1 C1260.6 807.6 1267.7 804.2 1271.7 813.6 C1275.7 823 1284.8 869 1286.9 877.5"/>
<path class="rd" stroke-dashoffset="23.9" d="M210.5 896.1 C213 895.4 220.6 893.4 225.7 892.1 C230.7 890.8 235.8 889.5 240.8 888.1 C245.9 886.7 250.9 885.1 256 883.7 C261 882.2 266.1 880.8 271.1 879.4 C276.2 878 281.2 876.4 286.3 875.2 C291.4 874 296.4 873.1 301.5 872.2 C306.5 871.3 311.6 870.5 316.6 869.8 C321.7 869.1 326.7 868.4 331.8 867.8 C336.8 867.2 341.9 866.9 346.9 866.2 C352 865.5 357 864.5 362.1 863.8 C367.2 863.1 372.2 862.7 377.3 861.8 C382.3 860.9 387.4 859.5 392.4 858.5 C397.5 857.5 402.5 856.8 407.6 855.9 C412.6 855 417.7 853.7 422.7 852.9 C427.8 852.1 432.8 851.6 437.9 850.9 C443 850.2 448 849.3 453.1 848.5 C458.1 847.7 463.2 847.1 468.2 846.3 C473.3 845.5 478.3 844.7 483.4 843.9 C488.4 843.1 493.5 842.2 498.5 841.5 C503.6 840.8 508.6 840.1 513.7 839.4 C518.8 838.7 523.8 837.9 528.9 837.4 C533.9 836.9 539 836.8 544 836.4 C549.1 836 554.1 835.6 559.2 835 C564.2 834.4 569.3 833.4 574.3 833 C579.4 832.6 584.4 832.8 589.5 832.6 C594.6 832.4 599.6 832.2 604.7 832 C609.7 831.8 614.8 831.6 619.8 831.4 C624.9 831.2 629.9 831.3 635 831 C640 830.7 645.1 829.7 650.1 829.4 C655.2 829.1 660.2 829.3 665.3 829 C670.4 828.7 675.4 828.1 680.5 827.6 C685.5 827.1 690.6 826.5 695.6 826 C700.7 825.5 705.7 825 710.8 824.4 C715.8 823.8 720.9 823 725.9 822.4 C731 821.8 736 821.3 741.1 820.6 C746.2 819.8 751.2 818.9 756.3 817.9 C761.3 816.9 766.4 815.8 771.4 814.7 C776.5 813.6 781.5 812.6 786.6 811.5 C791.6 810.4 796.7 809.5 801.7 808.3 C806.8 807.1 811.8 805.9 816.9 804.5 C822 803.1 827 801.4 832.1 800 C837.1 798.6 842.2 797.6 847.2 796.4 C852.3 795.2 857.3 794.1 862.4 793 C867.4 791.9 872.5 790.7 877.5 789.6 C882.6 788.5 887.6 787.6 892.7 786.6 C897.8 785.6 902.8 784.7 907.9 783.6 C912.9 782.4 918 781.1 923 779.7 C928.1 778.3 933.1 776.8 938.2 775.1 C943.2 773.4 948.3 771.5 953.3 769.5 C958.4 767.5 963.4 765.4 968.5 763.1 C973.6 760.8 978.6 758.2 983.7 755.6 C988.7 752.9 993.8 749.9 998.8 747.2 C1003.9 744.4 1008.9 741.8 1014 739.1 C1019 736.4 1024.1 733.1 1029.1 730.8 C1034.2 728.5 1039.2 726.9 1044.3 725.2 C1049.4 723.5 1054.4 722.1 1059.5 720.8 C1064.5 719.5 1069.6 718.2 1074.6 717.3 C1079.7 716.4 1084.7 716.1 1089.8 715.3 C1094.8 714.5 1099.9 713.2 1104.9 712.5 C1110 711.8 1115 711.7 1120.1 710.9 C1125.2 710.1 1130.2 708.6 1135.3 707.5 C1140.3 706.4 1145.4 705.6 1150.4 704.5 C1155.5 703.4 1160.5 702.1 1165.6 700.9 C1170.6 699.7 1175.7 698.5 1180.7 697.4 C1185.8 696.3 1190.8 695.3 1195.9 694.4 C1201 693.5 1206 692.6 1211.1 692 C1216.1 691.4 1221.2 691.3 1226.2 691 C1231.3 690.7 1236.3 690.7 1241.4 690.4 C1246.4 690.1 1251.5 689.9 1256.5 689.4 C1261.6 688.9 1266.6 688.2 1271.7 687.4 C1276.8 686.6 1284.3 684.9 1286.9 684.4"/>
<path class="rd" stroke-dashoffset="23.9" d="M210.5 814.8 C212.2 815.1 216.8 815.5 220.9 816.8 C225 818.1 231.2 820.6 234.8 822.7 C238.5 824.9 239.8 826.8 242.8 829.7 C245.8 832.6 249.4 838.7 252.7 840 C256 841.3 259 839.6 262.7 837.7 C266.4 835.8 270.8 831 274.6 828.7 C278.4 826.4 282.2 826.9 285.5 824.1 C288.8 821.3 291.7 815 294.5 811.8 C297.3 808.6 299.2 805.8 302.5 804.8 C305.8 803.8 311.1 804.5 314.4 805.8 C317.7 807.1 319.4 809.3 322.4 812.8 C325.4 816.3 329 824.1 332.3 826.7 C335.6 829.4 338.7 827.7 342.3 828.7 C345.9 829.7 350.2 831.9 354.2 832.7 C358.2 833.5 362.3 835.4 366.1 833.7 C369.9 832 373.3 824.2 377.1 822.7 C380.9 821.2 384.9 825.2 389 824.7 C393.1 824.2 398.2 821.8 402 819.8 C405.8 817.8 407.9 814 411.9 812.8 C415.9 811.6 422.1 810 425.8 812.8 C429.5 815.6 431.3 825.7 433.8 829.7 C436.3 833.7 437.5 836.9 440.8 836.7 C444.1 836.5 450.2 831.2 453.7 828.7 C457.2 826.2 459.3 823.2 461.7 821.7 C464.1 820.2 466 819.5 468.2 819.8 C470.4 820.1 472.6 822.4 475 823.7 C477.4 825 479.6 828.5 482.9 827.7 C486.2 826.9 491.2 821.4 494.9 818.8 C498.5 816.1 500.8 813.1 504.8 811.8 C508.8 810.5 514.7 809.8 518.7 810.8 C522.7 811.8 525.4 814.6 528.7 817.8 C532 820.9 536 826.6 538.6 829.7 C541.2 832.9 541.3 836.4 544.6 836.7 C547.9 837 554.5 833.2 558.5 831.7 C562.5 830.2 564.2 829.2 568.5 827.7 C572.8 826.2 580.4 824.2 584.4 822.7 C588.4 821.2 589.1 821.1 592.4 818.8 C595.7 816.5 601 809.8 604.3 808.8 C607.6 807.8 609 810.8 612.3 812.8 C615.6 814.8 620.2 818.4 624.2 820.7 C628.2 823 631.8 824.9 636.1 826.7 C640.4 828.5 646.5 830.7 650.1 831.7 C653.8 832.7 655 833.7 658 832.7 C661 831.7 665 828.7 668 825.7 C671 822.7 673.8 817.8 675.9 814.8 C678 811.8 678.2 808.8 680.9 807.8 C683.6 806.8 688.4 808.1 691.9 808.8 C695.4 809.5 697.8 810.3 701.8 811.8 C705.8 813.3 711.4 815.1 715.7 817.8 C720 820.4 724.1 824.6 727.7 827.7 C731.4 830.9 734.7 834.5 737.6 836.7 C740.5 839 741.9 840.1 745 841.2 C748.1 842.3 752.7 845.4 756 843.5 C759.3 841.6 761.9 835.5 765 830 C768.1 824.5 771 815.6 774.8 810.6 C778.6 805.6 784.1 800.3 787.7 800 C791.4 799.7 793.6 806 796.7 808.6 C799.9 811.2 802.6 814.1 806.6 815.6 C810.6 817.1 816.3 815.6 820.6 817.6 C824.9 819.6 829.4 824.7 832.5 827.5 C835.6 830.3 836.5 832.5 839.5 834.5 C842.5 836.5 846.9 839.8 850.4 839.5 C853.9 839.2 856.8 835.2 860.4 832.5 C864 829.8 869 825.3 872.3 823.5 C875.6 821.7 876 822.3 880.3 821.5 C884.6 820.7 893.2 819 898.2 818.6 C903.2 818.2 906 819.2 910.1 819 C914.2 818.8 918.8 818.3 923.1 817.6 C927.4 816.9 931.7 815.6 936 814.6 C940.3 813.6 944.9 811.5 948.9 811.6 C952.9 811.7 956.4 813.2 959.9 815.2 C963.4 817.2 966.3 820.8 969.8 823.5 C973.3 826.2 977.8 828 980.8 831.5 C983.8 835 985.9 840.8 987.7 844.4 C989.5 848 990 850.4 991.7 853.4 C993.4 856.4 996 861.5 997.7 862.3 C999.4 863.1 1000.7 860.1 1002 858 C1003.3 855.9 1004.2 853.1 1005.6 849.4 C1007 845.6 1008.9 840.4 1010.6 835.5 C1012.3 830.6 1014 824.8 1016 820 C1018 815.2 1020.4 809.5 1022.9 806.7 C1025.4 804 1027.3 803.5 1031 803.5 C1034.7 803.5 1040.5 807.2 1045 807 C1049.5 806.8 1054.4 802 1058 802 C1061.6 802 1063.9 803.8 1066.7 806.7 C1069.5 809.6 1072.3 814.1 1074.6 819.6 C1076.9 825.1 1078.6 832.2 1080.6 839.5 C1082.6 846.8 1084.9 857.4 1086.6 863.4 C1088.3 869.4 1088.9 873 1090.6 875.3 C1092.2 877.6 1094.2 878.3 1096.5 877.3 C1098.8 876.3 1102.2 874.4 1104.5 869.4 C1106.8 864.4 1108.5 854.8 1110.5 847.5 C1112.5 840.2 1114.4 832.6 1116.4 825.6 C1118.4 818.6 1120.2 811.4 1122.4 805.7 C1124.6 800.1 1126.8 795.5 1129.4 791.7 C1132.1 787.9 1135.2 782.8 1138.3 782.8 C1141.4 782.8 1144.6 786.2 1148.3 791.7 C1152 797.2 1157.2 810 1160.2 815.6 C1163.2 821.2 1163.7 822.5 1166.2 825.6 C1168.7 828.7 1172 831.7 1175 834 C1178 836.3 1180.6 837.1 1184.1 839.5 C1187.6 841.9 1192.7 847.8 1196 848.5 C1199.3 849.2 1201 848.3 1204 843.5 C1207 838.7 1211.1 827.9 1213.9 819.6 C1216.7 811.3 1218.4 800.5 1220.9 793.7 C1223.4 786.9 1226.4 779.9 1228.9 778.8 C1231.4 777.6 1233 783.5 1235.8 786.8 C1238.6 790.1 1242.5 795.4 1245.8 798.7 C1249.1 802 1252.7 802.6 1255.7 806.7 C1258.7 810.9 1261 818.1 1263.7 823.6 C1266.4 829.1 1269.1 834.2 1271.7 839.5 C1274.3 844.8 1277.5 850 1279.6 855.4 C1281.6 860.8 1283.3 869.2 1284 872"/>
<path class="ln" d="M210.5 895.8 L225.7 891.8 L240.8 887.8 L256 883.4 L271.1 879.1 L286.3 874.9 L301.5 871.9 L316.6 869.5 L331.8 867.5 L346.9 865.9 L362.1 863.5 L377.3 861.5 L392.4 858.2 L407.6 855.6 L422.7 852.6 L437.9 850.6 L453.1 848.2 L468.2 846 L483.4 843.6 L498.5 841.2 L513.7 839.1 L528.9 837.1 L544 836.1 L559.2 834.7 L574.3 832.7 L589.5 832.3 L604.7 831.7 L619.8 831.1 L635 830.7 L650.1 829.1 L665.3 828.7 L680.5 827.3 L695.6 825.7 L710.8 824.1 L725.9 822.1 L741.1 820.3 L756.3 817.6 L771.4 814.4 L786.6 811.2 L801.7 808 L816.9 804.2 L832.1 799.7 L847.2 796.1 L862.4 792.7 L877.5 789.3 L892.7 786.3 L907.9 783.3 L923 779.4 L938.2 774.8 L953.3 769.2 L968.5 762.8 L983.7 755.3 L998.8 746.9 L1014 738.8 L1029.1 730.5 L1044.3 724.9 L1059.5 720.5 L1074.6 717 L1089.8 715 L1104.9 712.2 L1120.1 710.6"/>
<path class="ln" d="M210.5 812.8 L225.7 812.2 L240.8 836.1 L256 828.7 L271.1 820.3 L286.3 830.7 L301.5 811.8 L316.6 819.8 L331.8 812.8 L346.9 827.7 L362.1 834.1 L377.3 810.8 L392.4 834.7 L407.6 815.8 L422.7 806.4 L437.9 828.3 L453.1 836.1 L468.2 821.3 L483.4 816.8 L498.5 823.7 L513.7 819.2 L528.9 812.4 L544 826.3 L559.2 826.3 L574.3 835.3 L589.5 820.1 L604.7 802.8 L619.8 819.4 L635 824.7 L650.1 842.2 L665.3 828.3 L680.5 806.4 L695.6 808.2 L710.8 823.1 L725.9 827.7 L741.1 821.4 L756.3 840.4 L771.4 820.5 L786.6 810.6 L801.7 817.6 L816.9 821.5 L832.1 824.5 L847.2 825.5 L862.4 822.9 L877.5 818.6 L892.7 822.5 L907.9 827.5 L923 836.1 L938.2 813.2 L953.3 805.6 L968.5 804 L983.7 811 L998.8 886.8 L1014 827 L1029.1 805.7 L1044.3 810.6 L1059.5 798.7 L1074.6 813 L1089.8 826 L1104.9 893.8 L1120.1 808.7"/>
<path fill="#000" d="M210.5 891l5.2 9.6h-10.4zM225.7 887l5.2 9.6h-10.4zM240.8 883l5.2 9.6h-10.4zM256 878.6l5.2 9.6h-10.4zM271.1 874.3l5.2 9.6h-10.4zM286.3 870.1l5.2 9.6h-10.4zM301.5 867.1l5.2 9.6h-10.4zM316.6 864.7l5.2 9.6h-10.4zM331.8 862.7l5.2 9.6h-10.4zM346.9 861.1l5.2 9.6h-10.4zM362.1 858.7l5.2 9.6h-10.4zM377.3 856.7l5.2 9.6h-10.4zM392.4 853.4l5.2 9.6h-10.4zM407.6 850.8l5.2 9.6h-10.4zM422.7 847.8l5.2 9.6h-10.4zM437.9 845.8l5.2 9.6h-10.4zM453.1 843.4l5.2 9.6h-10.4zM468.2 841.2l5.2 9.6h-10.4zM483.4 838.8l5.2 9.6h-10.4zM498.5 836.4l5.2 9.6h-10.4zM513.7 834.3l5.2 9.6h-10.4zM528.9 832.3l5.2 9.6h-10.4zM544 831.3l5.2 9.6h-10.4zM559.2 829.9l5.2 9.6h-10.4zM574.3 827.9l5.2 9.6h-10.4zM589.5 827.5l5.2 9.6h-10.4zM604.7 826.9l5.2 9.6h-10.4zM619.8 826.3l5.2 9.6h-10.4zM635 825.9l5.2 9.6h-10.4zM650.1 824.3l5.2 9.6h-10.4zM665.3 823.9l5.2 9.6h-10.4zM680.5 822.5l5.2 9.6h-10.4zM695.6 820.9l5.2 9.6h-10.4zM710.8 819.3l5.2 9.6h-10.4zM725.9 817.3l5.2 9.6h-10.4zM741.1 815.5l5.2 9.6h-10.4zM756.3 812.8l5.2 9.6h-10.4zM771.4 809.6l5.2 9.6h-10.4zM786.6 806.4l5.2 9.6h-10.4zM801.7 803.2l5.2 9.6h-10.4zM816.9 799.4l5.2 9.6h-10.4zM832.1 794.9l5.2 9.6h-10.4zM847.2 791.3l5.2 9.6h-10.4zM862.4 787.9l5.2 9.6h-10.4zM877.5 784.5l5.2 9.6h-10.4zM892.7 781.5l5.2 9.6h-10.4zM907.9 778.5l5.2 9.6h-10.4zM923 774.6l5.2 9.6h-10.4zM938.2 770l5.2 9.6h-10.4zM953.3 764.4l5.2 9.6h-10.4zM968.5 758l5.2 9.6h-10.4zM983.7 750.5l5.2 9.6h-10.4zM998.8 742.1l5.2 9.6h-10.4zM1014 734l5.2 9.6h-10.4zM1029.1 725.7l5.2 9.6h-10.4zM1044.3 720.1l5.2 9.6h-10.4zM1059.5 715.7l5.2 9.6h-10.4zM1074.6 712.2l5.2 9.6h-10.4zM1089.8 710.2l5.2 9.6h-10.4zM1104.9 707.4l5.2 9.6h-10.4zM1120.1 705.8l5.2 9.6h-10.4zM1135.3 702.4l5.2 9.6h-10.4zM1150.4 699.4l5.2 9.6h-10.4zM1165.6 695.8l5.2 9.6h-10.4zM1180.7 692.3l5.2 9.6h-10.4zM1195.9 689.3l5.2 9.6h-10.4zM1211.1 686.9l5.2 9.6h-10.4zM1226.2 685.9l5.2 9.6h-10.4zM1241.4 685.3l5.2 9.6h-10.4zM1256.5 684.3l5.2 9.6h-10.4zM1271.7 682.3l5.2 9.6h-10.4zM1286.9 679.3l5.2 9.6h-10.4z"/>
<path fill="#000" d="M205.3 807.6h10.4v10.4h-10.4zM220.5 807h10.4v10.4h-10.4zM235.6 830.9h10.4v10.4h-10.4zM250.8 823.5h10.4v10.4h-10.4zM265.9 815.1h10.4v10.4h-10.4zM281.1 825.5h10.4v10.4h-10.4zM296.3 806.6h10.4v10.4h-10.4zM311.4 814.6h10.4v10.4h-10.4zM326.6 807.6h10.4v10.4h-10.4zM341.7 822.5h10.4v10.4h-10.4zM356.9 828.9h10.4v10.4h-10.4zM372.1 805.6h10.4v10.4h-10.4zM387.2 829.5h10.4v10.4h-10.4zM402.4 810.6h10.4v10.4h-10.4zM417.5 801.2h10.4v10.4h-10.4zM432.7 823.1h10.4v10.4h-10.4zM447.9 830.9h10.4v10.4h-10.4zM463 816.1h10.4v10.4h-10.4zM478.2 811.6h10.4v10.4h-10.4zM493.3 818.5h10.4v10.4h-10.4zM508.5 814h10.4v10.4h-10.4zM523.7 807.2h10.4v10.4h-10.4zM538.8 821.1h10.4v10.4h-10.4zM554 821.1h10.4v10.4h-10.4zM569.1 830.1h10.4v10.4h-10.4zM584.3 814.9h10.4v10.4h-10.4zM599.5 797.6h10.4v10.4h-10.4zM614.6 814.2h10.4v10.4h-10.4zM629.8 819.5h10.4v10.4h-10.4zM644.9 837h10.4v10.4h-10.4zM660.1 823.1h10.4v10.4h-10.4zM675.3 801.2h10.4v10.4h-10.4zM690.4 803h10.4v10.4h-10.4zM705.6 817.9h10.4v10.4h-10.4zM720.7 822.5h10.4v10.4h-10.4zM735.9 816.2h10.4v10.4h-10.4zM751.1 835.2h10.4v10.4h-10.4zM766.2 815.3h10.4v10.4h-10.4zM781.4 805.4h10.4v10.4h-10.4zM796.5 812.4h10.4v10.4h-10.4zM811.7 816.3h10.4v10.4h-10.4zM826.9 819.3h10.4v10.4h-10.4zM842 820.3h10.4v10.4h-10.4zM857.2 817.7h10.4v10.4h-10.4zM872.3 813.4h10.4v10.4h-10.4zM887.5 817.3h10.4v10.4h-10.4zM902.7 822.3h10.4v10.4h-10.4zM917.8 830.9h10.4v10.4h-10.4zM933 808h10.4v10.4h-10.4zM948.1 800.4h10.4v10.4h-10.4zM963.3 798.8h10.4v10.4h-10.4zM978.5 805.8h10.4v10.4h-10.4zM993.6 881.6h10.4v10.4h-10.4zM1008.8 821.8h10.4v10.4h-10.4zM1023.9 800.5h10.4v10.4h-10.4zM1039.1 805.4h10.4v10.4h-10.4zM1054.3 793.5h10.4v10.4h-10.4zM1069.4 807.8h10.4v10.4h-10.4zM1084.6 820.8h10.4v10.4h-10.4zM1099.7 888.6h10.4v10.4h-10.4zM1114.9 803.5h10.4v10.4h-10.4zM1130.1 774.6h10.4v10.4h-10.4zM1145.2 792.5h10.4v10.4h-10.4zM1160.4 833.7h10.4v10.4h-10.4zM1175.5 831.3h10.4v10.4h-10.4zM1190.7 845.2h10.4v10.4h-10.4zM1205.9 828.3h10.4v10.4h-10.4zM1221 779.6h10.4v10.4h-10.4zM1236.2 804.5h10.4v10.4h-10.4zM1251.3 801.9h10.4v10.4h-10.4zM1266.5 808.4h10.4v10.4h-10.4zM1281.7 872.3h10.4v10.4h-10.4z"/>
</g>
<rect class="ax" x="134.4" y="645" width="1145.8" height="266"/>
<path d="M134.4 711.5h10.5M134.4 778h10.5M134.4 844.5h10.5M1280.2 733.7h-10.5M1280.2 822.3h-10.5M362 911v-10.5M589.7 911v-10.5M817.3 911v-10.5M1045 911v-10.5M1272.6 911v-10.5" stroke="#000" stroke-width="2.6" fill="none"/>
<text class="g" x="102.2" y="656.4" text-anchor="end">20</text>
<text class="g" x="102.2" y="722.9" text-anchor="end">15</text>
<text class="g" x="102.2" y="789.4" text-anchor="end">10</text>
<text class="g" x="102.2" y="855.9" text-anchor="end">5</text>
<text class="g" x="102.2" y="922.4" text-anchor="end">0</text>
<text transform="translate(1313.8 657.8) scale(1.04 1.1)">1.6</text>
<text transform="translate(1313.8 746.5) scale(1.04 1.1)">0.8</text>
<text transform="translate(1313.8 835.1) scale(1.04 1.1)">0</text>
<text transform="translate(1313.8 923.8) scale(1.04 1.1)">-0.8</text>
</g>
<text transform="translate(42.7 173) rotate(-90)" text-anchor="middle"><tspan font-style="italic">H</tspan><tspan class="s" dy="5.5">L</tspan><tspan dy="-5.5"> (mm)</tspan></text>
<text transform="translate(35.3 467.7) rotate(-90)" text-anchor="middle"><tspan font-style="italic">H</tspan><tspan class="s" dy="5.5">L</tspan><tspan dy="-5.5"> (mm)</tspan></text>
<text transform="translate(26 814.8) rotate(-90)" text-anchor="middle"><tspan font-style="italic">H</tspan><tspan class="s" dy="5.5">L</tspan><tspan dy="-5.5"> (mm)</tspan></text>
<text transform="translate(1363.7 156.5) rotate(90)" text-anchor="middle"><tspan font-style="italic">H</tspan><tspan class="s" dy="6">H</tspan><tspan dy="-6"> (mm)</tspan></text>
<text transform="translate(1367.3 445.1) rotate(90)" text-anchor="middle"><tspan font-style="italic">H</tspan><tspan class="s" dy="6">H</tspan><tspan dy="-6"> (mm)</tspan></text>
<text transform="translate(1382 757.2) rotate(90)" text-anchor="middle"><tspan font-style="italic">H</tspan><tspan class="s" dy="6">H</tspan><tspan dy="-6"> (mm)</tspan></text>
<text class="t" x="305.3" y="63.0" style="font-size:36.75px">Deformaiton of ZA5</text>
<text class="t" x="288.0" y="369.2" style="font-size:37px">Deformaiton of ZA7</text>
<text class="t" x="262.6" y="696.6">Deformaiton of ZA13</text>
<text class="g" x="133.8" y="966.6" text-anchor="middle" style="font-size:37.1px">2020/11/24</text>
<text class="g" x="361.4" y="966.6" text-anchor="middle" style="font-size:37.1px">2020/12/24</text>
<text class="g" x="589.1" y="966.6" text-anchor="middle" style="font-size:37.1px">2021/1/23</text>
<text class="g" x="816.7" y="966.6" text-anchor="middle" style="font-size:37.1px">2021/2/22</text>
<text class="g" x="1044.4" y="966.6" text-anchor="middle" style="font-size:37.1px">2021/3/24</text>
<text class="g" x="1272" y="966.6" text-anchor="middle" style="font-size:37.1px">2021/4/23</text>
<text x="733" y="1009.8" text-anchor="middle" style="font-size:36px">Date</text>
<g id="legend">
<text x="257.5" y="762.6" class="t"><tspan font-style="italic">H</tspan><tspan class="s" dy="4.5">L</tspan></text>
<path d="M299.6 749.4H375.3" stroke="#3c3c3c" stroke-width="2"/><path d="M337.3 743.2l6.6 11.4h-13.2z" fill="#000"/>
<text x="406.5" y="762.6" class="t"><tspan font-style="italic">H</tspan><tspan class="s" dy="4.5">H</tspan></text>
<path d="M473.1 753.5H547" stroke="#3c3c3c" stroke-width="2"/><rect x="502.7" y="746.7" width="13.2" height="13.6" fill="#000"/>
<text x="559.4" y="762.5" class="t">Prediction</text>
<path d="M723.8 753.4H830" stroke="#ff0000" stroke-width="2.6" stroke-dasharray="22 11.4" fill="none"/>
</g>
<g id="annotations">
<path d="M211.7 37V916M1122 31V911" stroke="#bfbfbf" stroke-opacity="0.35" stroke-width="3" fill="none"/>
<path d="M206.5 32.5V908.8M1116.3 27.4V903.8" stroke="#0000e6" stroke-width="3" stroke-linecap="round" fill="none"/>
<path d="M235 415.6H1090M1147 415.6H1245" stroke="#0000ff" stroke-width="2.4" fill="none"/>
<path d="M207.9 416l29.8 -10v20zM1115.4 416l-28.5 -10v20zM1120.4 416.6l27.5 -10v20zM1273.7 416.6l-30 -10v20z" fill="#0000ff"/>
<text class="b" x="523" y="456" style="font-size:33.25px">Next day prediction</text>
<text class="b" x="1198" y="411.5" text-anchor="middle" style="font-size:32.3px">15-Day</text>
<text class="b" x="1199.8" y="452.3" text-anchor="middle" style="font-size:33.1px">prediction</text>
</g>
</svg></body></html>
